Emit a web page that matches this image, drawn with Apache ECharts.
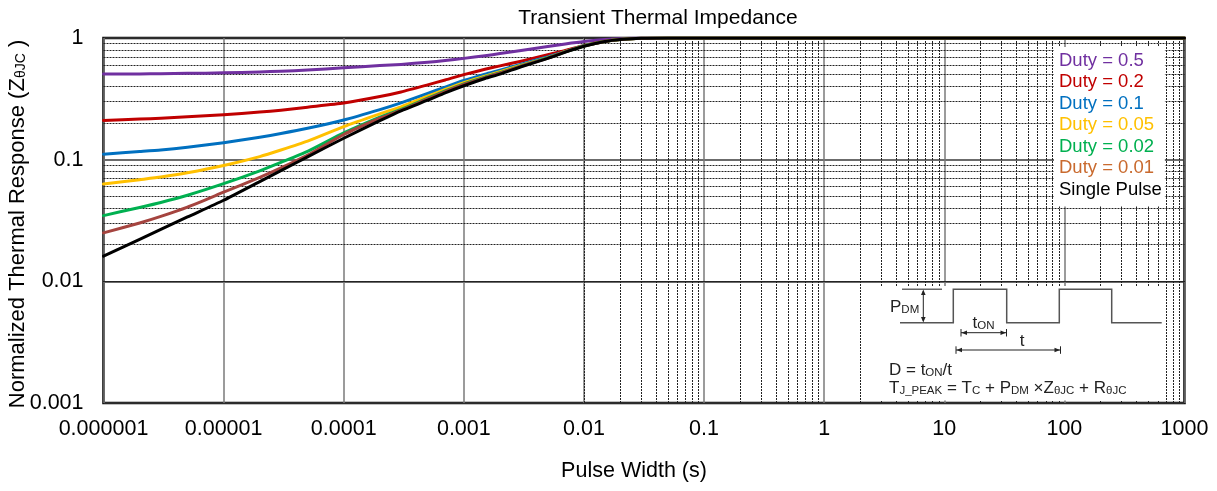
<!DOCTYPE html>
<html>
<head>
<meta charset="utf-8">
<script src="https://cdn.jsdelivr.net/npm/echarts@6/dist/echarts.min.js"></script>
<style>
  html, body { margin: 0; padding: 0; background: #fff; }
  #chart { width: 1217px; height: 491px; }
</style>
</head>
<body>
<div id="chart"></div>
<script>
// pulse width (s) sample points
const pulseWidth = [1e-6, 2e-6, 3e-6, 5e-6, 1e-5, 2e-5, 3e-5, 5e-5, 1e-4, 2e-4, 3e-4, 5e-4, 7e-4, 1e-3, 1.5e-3, 2e-3, 3e-3, 5e-3, 7e-3, 1e-2, 1.5e-2, 2e-2, 3e-2, 5e-2, 0.1, 1, 10, 100, 1000]

// normalized Zth per duty cycle
const duty05 = [0.505, 0.507, 0.509, 0.512, 0.517, 0.526, 0.533, 0.546, 0.569, 0.593, 0.607, 0.632, 0.652, 0.68, 0.715, 0.745, 0.79, 0.85, 0.893, 0.935, 0.97, 0.988, 0.998, 1, 1, 1, 1, 1, 1]
const duty02 = [0.21, 0.2155, 0.219, 0.225, 0.234, 0.246, 0.255, 0.27, 0.292, 0.33, 0.36, 0.412, 0.452, 0.5, 0.553, 0.59, 0.645, 0.73, 0.79, 0.87, 0.94, 0.972, 0.995, 1, 1, 1, 1, 1, 1]
const duty01 = [0.111, 0.1165, 0.12, 0.1265, 0.138, 0.153, 0.164, 0.181, 0.212, 0.258, 0.293, 0.35, 0.395, 0.447, 0.505, 0.545, 0.61, 0.7, 0.775, 0.865, 0.937, 0.97, 0.995, 1, 1, 1, 1, 1, 1]
const duty005 = [0.063, 0.0685, 0.072, 0.078, 0.0895, 0.106, 0.12, 0.142, 0.187, 0.238, 0.272, 0.332, 0.378, 0.43, 0.485, 0.528, 0.597, 0.69, 0.772, 0.862, 0.936, 0.97, 0.995, 1, 1, 1, 1, 1, 1]
const duty002 = [0.0347, 0.0405, 0.0445, 0.051, 0.0635, 0.081, 0.095, 0.117, 0.166, 0.224, 0.259, 0.32, 0.367, 0.42, 0.477, 0.518, 0.59, 0.686, 0.77, 0.86, 0.935, 0.97, 0.994, 1, 1, 1, 1, 1, 1]
const duty001 = [0.025, 0.0302, 0.0342, 0.0408, 0.054, 0.0715, 0.0855, 0.109, 0.161, 0.219, 0.255, 0.316, 0.363, 0.415, 0.473, 0.515, 0.587, 0.684, 0.769, 0.858, 0.935, 0.97, 0.994, 1, 1, 1, 1, 1, 1]
const singlePulse = [0.0161, 0.0221, 0.0267, 0.0338, 0.0464, 0.0661, 0.0812, 0.1055, 0.15, 0.209, 0.252, 0.308, 0.354, 0.405, 0.465, 0.505, 0.58, 0.68, 0.765, 0.855, 0.935, 0.97, 0.994, 1, 1, 1, 1, 1, 1]

const xTickLabels = ['0.000001', '0.00001', '0.0001', '0.001', '0.01', '0.1', '1', '10', '100', '1000']
const yTickLabels = ['0.001', '0.01', '0.1', '1']

const FONT = '"Liberation Sans", Arial, sans-serif'

const SERIES = [
  { name: 'Duty = 0.5', data: duty05, color: '#7030A0', text: '#7030A0' },
  { name: 'Duty = 0.2', data: duty02, color: '#C00000', text: '#C00000' },
  { name: 'Duty = 0.1', data: duty01, color: '#0070C0', text: '#0070C0' },
  { name: 'Duty = 0.05', data: duty005, color: '#FFC000', text: '#FFC000' },
  { name: 'Duty = 0.02', data: duty002, color: '#00B050', text: '#00B050' },
  { name: 'Duty = 0.01', data: duty001, color: '#A5443F', text: '#C96A2E' },
  { name: 'Single Pulse', data: singlePulse, color: '#000000', text: '#000000' },
]

// minor log grid (2..9 per decade)
const minorX = []
for (let d = -6; d < 3; d++) for (let k = 2; k <= 9; k++) minorX.push(k * Math.pow(10, d))
const minorY = []
for (let d = -3; d < 0; d++) for (let k = 2; k <= 9; k++) minorY.push(k * Math.pow(10, d))

const chart = echarts.init(document.getElementById('chart'))

const minorStyle = { color: '#222', width: 1, type: [2, 1] }

const series = [
  {
    name: 'grid-minor',
    type: 'line',
    data: [],
    silent: true,
    z: 1,
    markLine: {
      z: 1,
      silent: true,
      symbol: 'none',
      animation: false,
      label: { show: false },
      lineStyle: minorStyle,
      emphasis: { disabled: true },
      data: minorX.map((v) => ({ xAxis: v })).concat(minorY.map((v) => ({ yAxis: v }))),
    },
  },
].concat(SERIES.map((s) => ({
  name: s.name,
  type: 'line',
  data: pulseWidth.map((t, i) => [t, s.data[i]]),
  symbol: 'none',
  smooth: 0.2,
  z: 3,
  lineStyle: { width: 3, color: s.color, join: 'round', cap: 'round' },
  itemStyle: { color: s.color },
})))

const sub = { fontFamily: FONT, fontSize: 11.5, verticalAlign: 'bottom', fill: '#222' }

// pulse diagram inset (annotation, not data)
const inset = [
  { type: 'rect', shape: { x: 879, y: 286, width: 286, height: 114.5 }, style: { fill: '#fff' } },
  { type: 'polyline', shape: { points: [[902, 289.3], [942, 289.3]] }, style: { stroke: '#666', lineWidth: 1.5, fill: null } },
  {
    type: 'polyline',
    shape: {
      points: [[900, 322.7], [953.3, 322.7], [953.3, 289.3], [1006.7, 289.3], [1006.7, 322.7], [1059.3, 322.7],
        [1059.3, 289.3], [1111.7, 289.3], [1111.7, 322.7], [1161.7, 322.7]],
    },
    style: { stroke: '#555', lineWidth: 1.5, fill: null },
  },
  // P_DM arrow
  { type: 'line', shape: { x1: 923.3, y1: 291, x2: 923.3, y2: 321 }, style: { stroke: '#222', lineWidth: 1 } },
  { type: 'polygon', shape: { points: [[923.3, 289.5], [921, 295], [925.6, 295]] }, style: { fill: '#222' } },
  { type: 'polygon', shape: { points: [[923.3, 322.5], [921, 317], [925.6, 317]] }, style: { fill: '#222' } },
  // t_ON arrow
  { type: 'line', shape: { x1: 961, y1: 332.7, x2: 1006.5, y2: 332.7 }, style: { stroke: '#222', lineWidth: 1 } },
  { type: 'line', shape: { x1: 961, y1: 329, x2: 961, y2: 336.5 }, style: { stroke: '#222', lineWidth: 1 } },
  { type: 'line', shape: { x1: 1006.5, y1: 329, x2: 1006.5, y2: 336.5 }, style: { stroke: '#222', lineWidth: 1 } },
  { type: 'polygon', shape: { points: [[961.5, 332.7], [967, 330.5], [967, 334.9]] }, style: { fill: '#222' } },
  { type: 'polygon', shape: { points: [[1006, 332.7], [1000.5, 330.5], [1000.5, 334.9]] }, style: { fill: '#222' } },
  // t arrow
  { type: 'line', shape: { x1: 956, y1: 350, x2: 1060.5, y2: 350 }, style: { stroke: '#222', lineWidth: 1 } },
  { type: 'line', shape: { x1: 956, y1: 346.3, x2: 956, y2: 353.8 }, style: { stroke: '#222', lineWidth: 1 } },
  { type: 'line', shape: { x1: 1060.5, y1: 346.3, x2: 1060.5, y2: 353.8 }, style: { stroke: '#222', lineWidth: 1 } },
  { type: 'polygon', shape: { points: [[956.5, 350], [962, 347.8], [962, 352.2]] }, style: { fill: '#222' } },
  { type: 'polygon', shape: { points: [[1060, 350], [1054.5, 347.8], [1054.5, 352.2]] }, style: { fill: '#222' } },
  // labels
  {
    type: 'text', x: 890, y: 307,
    style: { text: 'P{s|DM}', fontFamily: FONT, fontSize: 17, fill: '#222', verticalAlign: 'middle', rich: { s: sub } },
  },
  {
    type: 'text', x: 983.5, y: 323,
    style: { text: 't{s|ON}', fontFamily: FONT, fontSize: 17, fill: '#222', align: 'center', verticalAlign: 'middle', rich: { s: sub } },
  },
  {
    type: 'text', x: 1022, y: 341,
    style: { text: 't', fontFamily: FONT, fontSize: 17, fill: '#222', align: 'center', verticalAlign: 'middle' },
  },
  {
    type: 'text', x: 889, y: 370,
    style: { text: 'D = t{s|ON}/t', fontFamily: FONT, fontSize: 17, fill: '#222', verticalAlign: 'middle', rich: { s: sub } },
  },
  {
    type: 'text', x: 889, y: 388,
    style: {
      text: 'T{s|J_PEAK} = T{s|C} + P{s|DM} ×Z{s|θJC} + R{s|θJC}',
      fontFamily: FONT, fontSize: 17, fill: '#222', verticalAlign: 'middle', rich: { s: sub },
    },
  },
].map((el) => Object.assign({ z: 100, silent: true }, el))

chart.setOption({
  animation: false,
  title: {
    text: 'Transient Thermal Impedance',
    left: 653,
    top: 3,
    textAlign: 'center',
    textStyle: { fontFamily: FONT, fontSize: 21, fontWeight: 'normal', color: '#000' },
  },
  legend: {
    orient: 'vertical',
    left: 1054,
    top: 47,
    z: 10,
    itemWidth: 0,
    itemHeight: 0,
    itemGap: 0,
    padding: [3, 3, 6, 0],
    backgroundColor: '#fff',
    selectedMode: false,
    data: SERIES.map((s) => ({
      name: s.name,
      icon: 'rect',
      textStyle: { color: s.text },
    })),
    textStyle: { fontFamily: FONT, fontSize: 18.5, lineHeight: 21.5 },
  },
  grid: {
    left: 103.5,
    right: 32.5,
    top: 38,
    bottom: 88,
    outerBoundsMode: 'none',
    containLabel: false,
    show: true,
    borderColor: '#000',
    borderWidth: 2.5,
    backgroundColor: 'transparent',
  },
  xAxis: {
    type: 'log',
    logBase: 10,
    min: 1e-6,
    max: 1000,
    splitNumber: 9,
    name: 'Pulse Width (s)',
    nameLocation: 'middle',
    nameGap: 57,
    nameMoveOverlap: false,
    nameTextStyle: { fontFamily: FONT, fontSize: 21.5, color: '#000', padding: [0, 20, 0, 0] },
    axisLine: { show: false },
    axisTick: { show: false },
    axisLabel: {
      margin: 15,
      fontFamily: FONT,
      fontSize: 21.5,
      color: '#000',
      formatter: (v) => xTickLabels[Math.round(Math.log10(v)) + 6],
    },
    splitLine: { show: true, lineStyle: { color: '#7a7a7a', width: 1.5 } },
  },
  yAxis: {
    type: 'log',
    logBase: 10,
    min: 0.001,
    max: 1,
    splitNumber: 3,
    name: 'Normalized Thermal Response (Z{sub|θJC} )',
    nameLocation: 'middle',
    nameGap: 75,
    nameMoveOverlap: false,
    nameTextStyle: {
      fontFamily: FONT,
      fontSize: 22,
      color: '#000',
      padding: [0, 7, 0, 0],
      rich: { sub: { fontFamily: FONT, fontSize: 14, verticalAlign: 'bottom', color: '#000' } },
    },
    axisLine: { show: false },
    axisTick: { show: false },
    axisLabel: {
      margin: 20,
      fontFamily: FONT,
      fontSize: 21.5,
      color: '#000',
      formatter: (v) => yTickLabels[Math.round(Math.log10(v)) + 3],
    },
    splitLine: { show: true, lineStyle: { color: '#3a3a3a', width: 1.5 } },
  },
  series: series,
  graphic: inset,
})
</script>
</body>
</html>
